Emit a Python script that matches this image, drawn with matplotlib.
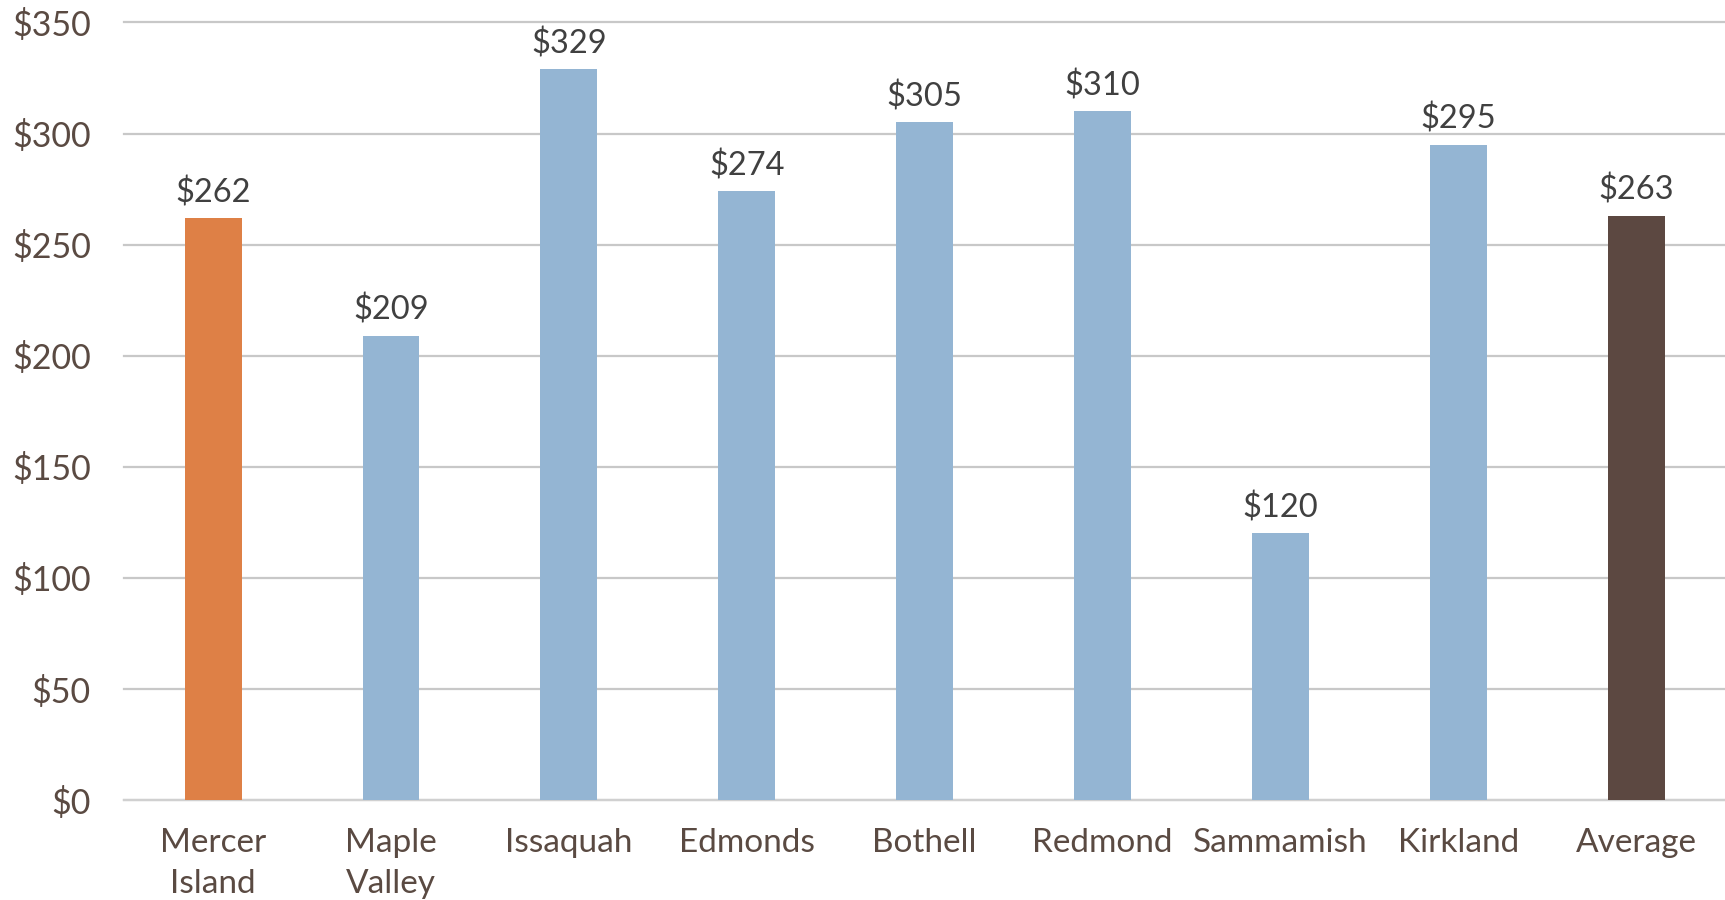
import matplotlib
matplotlib.use("Agg")
import matplotlib.pyplot as plt
from matplotlib.ticker import MultipleLocator, FuncFormatter

categories = ["Mercer\nIsland", "Maple\nValley", "Issaquah", "Edmonds", "Bothell",
              "Redmond", "Sammamish", "Kirkland", "Average"]
values = [262, 209, 329, 274, 305, 310, 120, 295, 263]
colors = ["#DE8046", "#94B5D3", "#94B5D3", "#94B5D3", "#94B5D3",
          "#94B5D3", "#94B5D3", "#94B5D3", "#5C4841"]

plt.rcParams["font.family"] = ["Lato", "DejaVu Sans"]

fig = plt.figure(figsize=(17.25, 9), dpi=100)
ax = fig.add_axes([0.072, 0.111, 0.928, 0.864])

x = range(len(categories))
bars = ax.bar(x, values, width=0.32, color=colors, zorder=3)

for xi, v in zip(x, values):
    ax.text(xi, v + 4.5, f"${v}", ha="center", va="bottom",
            fontsize=23.5, color="#404040")

ax.set_xlim(-0.5, len(categories) - 0.5)
ax.set_ylim(0, 350)
ax.yaxis.set_major_locator(MultipleLocator(50))
ax.yaxis.set_major_formatter(FuncFormatter(lambda v, p: f"${v:.0f}"))
ax.grid(axis="y", color="#C8C8C8", linewidth=1.6, zorder=0)
ax.set_axisbelow(True)
for line in ax.get_ygridlines():
    line.set_clip_on(False)

for s in ["top", "right", "left"]:
    ax.spines[s].set_visible(False)
ax.spines["bottom"].set_color("#D0D0D0")
ax.spines["bottom"].set_linewidth(1.6)

ax.set_xticks(list(x))
ax.set_xticklabels(categories, fontsize=24, color="#5A4A42", linespacing=1.45, va="top")
ax.tick_params(axis="x", length=0, pad=20)
ax.tick_params(axis="y", length=0, pad=24, labelsize=24.5, labelcolor="#5A4A42")

fig.savefig("out.png", dpi=100)
